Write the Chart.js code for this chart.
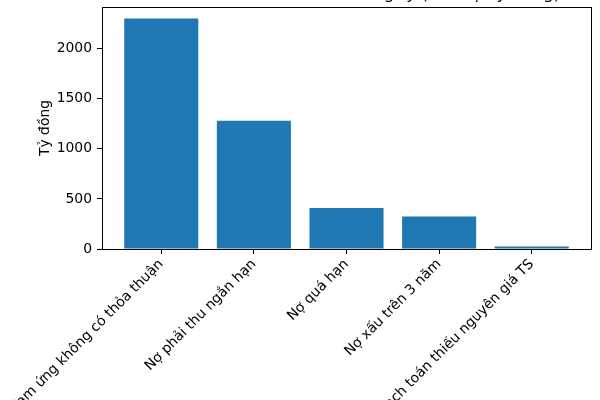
<!DOCTYPE html>
<html>
<head>
<meta charset="utf-8">
<script src="https://cdn.jsdelivr.net/npm/chart.js@4"></script>
<style>
  body { margin:0; background:#fff; }
</style>
</head>
<body>
<canvas id="chart" width="600" height="400"></canvas>
<script>
const categories = ["Tạm ứng không có thỏa thuận", "Nợ phải thu ngắn hạn", "Nợ quá hạn", "Nợ xấu trên 3 năm", "Hạch toán thiếu nguyên giá TS"];
const amounts = [2300, 1280, 410, 325, 25];
const yTicks = [0, 500, 1000, 1500, 2000];
const titleText = "Các khoản sai sót lớn của Công ty (đơn vị: tỷ đồng)";
const yLabel = "Tỷ đồng";

const font = { family: "DejaVu Sans", size: 13.9 };

// spines all round + title centred over the axes (it runs off the top, as in the original)
const frame = {
    id: 'frame',
    afterDraw(chart){
        const a = chart.chartArea, c = chart.ctx;
        c.save();
        c.strokeStyle = '#000';
        c.lineWidth = 1;
        c.strokeRect(Math.round(a.left)+0.5, Math.round(a.top)+0.5, Math.round(a.right-a.left), Math.round(a.bottom-a.top));
        c.fillStyle = '#000';
        c.font = '16.7px "DejaVu Sans"';
        c.textAlign = 'center';
        c.textBaseline = 'alphabetic';
        c.fillText(titleText, (a.left+a.right)/2, a.top - 8.3);
        c.restore();
    }
};

new Chart(document.getElementById("chart"), {
    type: 'bar',
    data: {
        datasets: [{
            data: amounts.map((v,i)=>({x:i, y:v})),
            backgroundColor: '#1f77b4',
            barPercentage: 0.8,
            categoryPercentage: 1.0
        }]
    },
    options: {
        responsive: false,
        animation: false,
        devicePixelRatio: 1,
        layout: { padding: { top: 7, right: 9, left: 0, bottom: 0 } },
        plugins: {
            legend: { display: false },
            tooltip: { enabled: false }
        },
        scales: {
            x: {
                type: 'linear',
                min: -0.64, max: 4.64,
                offset: false,
                afterBuildTicks: s => { s.ticks = categories.map((c,i)=>({value:i})); },
                afterFit: s => { s.height = 151; s.paddingLeft = 0; s.paddingRight = 0; },
                grid: { offset: false, drawOnChartArea: false, drawTicks: true, tickLength: 5, color: '#000' },
                border: { display: true, color: '#000', width: 1 },
                ticks: {
                    color: '#000', font: font, padding: 2,
                    minRotation: 45, maxRotation: 45, autoSkip: false,
                    callback: v => categories[v]
                }
            },
            y: {
                min: 0, max: 2415,
                afterBuildTicks: s => { s.ticks = yTicks.map(v=>({value:v})); },
                afterFit: s => { s.width = 102; s.paddingTop = 0; s.paddingBottom = 0; },
                grid: { drawOnChartArea: false, drawTicks: true, tickLength: 5, color: '#000' },
                border: { display: true, color: '#000', width: 1 },
                ticks: { color: '#000', font: font, padding: 5, callback: v => String(v) },
                title: {
                    display: true, text: yLabel, color: '#000', font: font,
                    padding: { top: 37, bottom: 0 }
                }
            }
        }
    },
    plugins: [frame]
});
</script>
</body>
</html>
